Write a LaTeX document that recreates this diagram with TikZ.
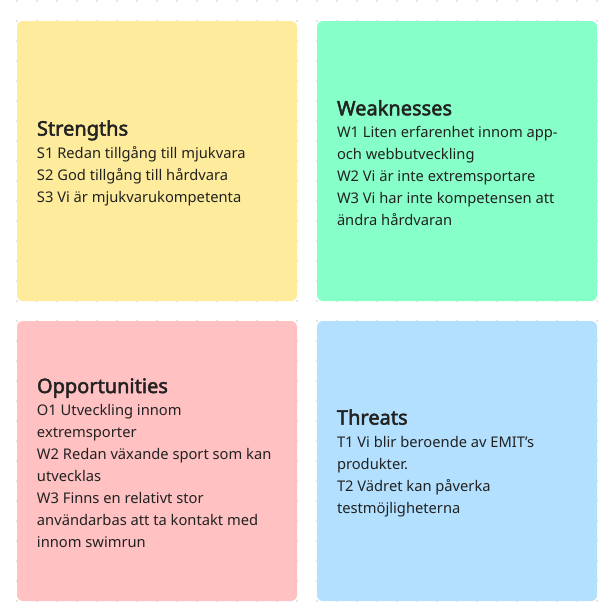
\documentclass[tikz,border=0pt]{standalone}
\usepackage{fontspec}
\setmainfont{Noto Sans}[AutoFakeBold=2.4]
\usepackage{tikz}
\usetikzlibrary{positioning}

\definecolor{strcol}{HTML}{FEEC9C}
\definecolor{weacol}{HTML}{86FFC8}
\definecolor{oppcol}{HTML}{FFC1C1}
\definecolor{thrcol}{HTML}{B2E0FE}
\definecolor{txtcol}{HTML}{222222}
\definecolor{dotcol}{HTML}{DEDEDE}

\tikzset{
  swotbox/.style={rectangle,rounded corners=6pt,minimum width=280pt,minimum height=280pt,inner sep=0pt,draw=none},
  swottext/.style={anchor=west,align=left,inner sep=0pt,text=txtcol,font=\fontsize{14.7}{22}\selectfont},
}
\newcommand{\swothead}[1]{{\fontsize{20}{22}\selectfont\bfseries #1}\\[0.5pt]}

\begin{document}
\begin{tikzpicture}[x=1pt,y=-1pt]
\useasboundingbox[fill=white] (0,0) rectangle (614,614);
\foreach \gx in {17,37,...,597}
  \foreach \gy in {1,21,...,601}
    \fill[dotcol] (\gx,\gy) circle (1.1pt);

\node[swotbox,fill=strcol] (str) at (157,161) {};
\node[swotbox,fill=weacol] (wea) at (457,161) {};
\node[swotbox,fill=oppcol] (opp) at (157,461) {};
\node[swotbox,fill=thrcol] (thr) at (457,461) {};

\node[swottext] (strtxt) at ([xshift=20pt,yshift=-2pt]str.west) {\swothead{Strengths}S1 Redan tillgång till mjukvara\\S2 God tillgång till hårdvara\\S3 Vi är mjukvarukompetenta};
\node[swottext] (weatxt) at ([xshift=20pt,yshift=-2pt]wea.west) {\swothead{Weaknesses}W1 Liten erfarenhet innom app-\\och webbutveckling\\W2 Vi är inte extremsportare\\W3 Vi har inte kompetensen att\\ändra hårdvaran};
\node[swottext] (opptxt) at ([xshift=20pt,yshift=-2pt]opp.west) {\swothead{Opportunities}O1 Utveckling innom\\extremsporter\\W2 Redan växande sport som kan\\utvecklas\\W3 Finns en relativt stor\\användarbas att ta kontakt med\\innom swimrun};
\node[swottext] (thrtxt) at ([xshift=20pt,yshift=-2pt]thr.west) {\swothead{Threats}T1 Vi blir beroende av EMIT’s\\produkter.\\T2 Vädret kan påverka\\testmöjligheterna};
\end{tikzpicture}
\end{document}
